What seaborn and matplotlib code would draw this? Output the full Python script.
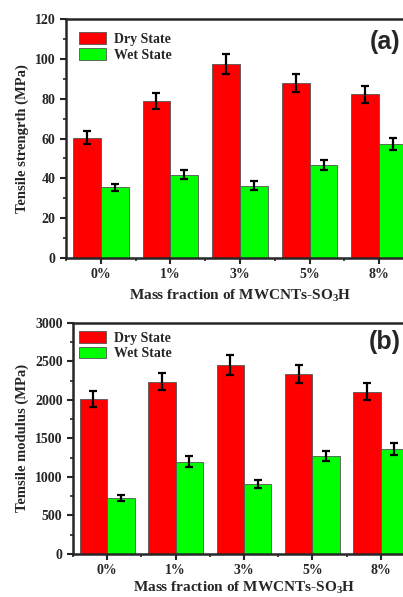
import numpy as np
import pandas as pd
import matplotlib
matplotlib.use("Agg")
import matplotlib.pyplot as plt
from matplotlib.ticker import AutoMinorLocator, MultipleLocator
import seaborn as sns

sns.set_style("ticks")
plt.rcParams['font.family'] = ['Liberation Serif', 'DejaVu Serif']
plt.rcParams['font.weight'] = 'bold'
plt.rcParams['mathtext.fontset'] = 'custom'
plt.rcParams['mathtext.rm'] = 'Liberation Serif:bold'
plt.rcParams['mathtext.it'] = 'Liberation Serif:bold'
plt.rcParams['mathtext.bf'] = 'Liberation Serif:bold'

# data
fractions = ["0%", "1%", "3%", "5%", "8%"]
states = ["Dry State", "Wet State"]

strength_dry = [60.5, 78.8, 97.4, 88.0, 82.3]
strength_dry_err = [3.2, 4.1, 5.0, 4.4, 4.3]
strength_wet = [35.5, 41.9, 36.4, 46.8, 57.3]
strength_wet_err = [1.9, 2.4, 2.1, 2.4, 3.1]

modulus_dry = [2015, 2235, 2452, 2335, 2105]
modulus_dry_err = [105, 112, 125, 120, 108]
modulus_wet = [730, 1200, 905, 1275, 1362]
modulus_wet_err = [38, 65, 55, 67, 72]

colors = ["#ff0000", "#00ff00"]


def make_df(dry, dry_err, wet, wet_err):
    return pd.DataFrame({
        "fraction": fractions * 2,
        "state": [states[0]] * 5 + [states[1]] * 5,
        "value": list(dry) + list(wet),
        "err": list(dry_err) + list(wet_err),
    })


def draw_panel(ax, df, ylabel, ymax, ystep, tag, tag_x, tag_y, leg_anchor, xpad):
    sns.barplot(data=df, x="fraction", y="value", hue="state", order=fractions,
                hue_order=states, palette=colors, errorbar=None, width=0.8,
                edgecolor="#555555", linewidth=0.6, saturation=1, ax=ax)
    # error bars at the bar positions
    for container, st in zip(ax.containers, states):
        sub = df[df["state"] == st].set_index("fraction").loc[fractions]
        xs = [p.get_x() + p.get_width() / 2 for p in container.patches]
        ax.errorbar(xs, sub["value"], yerr=sub["err"], fmt="none", ecolor="black",
                    elinewidth=1.6, capsize=3, capthick=1.6)
    ax.set_xlim(-0.5, 4.5)
    ax.set_ylim(0, ymax)
    ax.yaxis.set_major_locator(MultipleLocator(ystep))
    ax.yaxis.set_minor_locator(AutoMinorLocator(2))
    ax.set_xticks(np.arange(-0.5, 5, 1), minor=True)
    ax.set_ylabel(ylabel, fontsize=10.5, fontweight="bold")
    ax.set_xlabel("Mass fraction of MWCNTs-SO$_3$H", fontsize=11, fontweight="bold",
                  labelpad=xpad)
    ax.tick_params(axis="both", which="major", direction="out", length=4, width=1.5,
                   labelsize=10)
    ax.tick_params(axis="both", which="minor", direction="out", length=2.5, width=1.2)
    for s in ax.spines.values():
        s.set_linewidth(1.8)
    for lab in ax.get_xticklabels() + ax.get_yticklabels():
        lab.set_fontweight("bold")
    leg = ax.legend(loc="upper left", frameon=False, fontsize=10, handlelength=1.9,
                    handleheight=0.9, borderaxespad=0.3, labelspacing=0.15,
                    handletextpad=0.6, bbox_to_anchor=leg_anchor)
    for h in leg.legend_handles:
        h.set_edgecolor("#555555")
    ax.text(tag_x, tag_y, tag, transform=ax.transAxes, fontsize=18, fontweight="bold",
            family="Liberation Sans", ha="left", va="center", clip_on=False)


fig = plt.figure(figsize=(4.03, 5.97), dpi=100)
ax1 = fig.add_axes([0.1638, 0.5678, 0.8635, 0.4003])
ax2 = fig.add_axes([0.181, 0.072, 0.8486, 0.3874])

draw_panel(ax1, make_df(strength_dry, strength_dry_err, strength_wet, strength_wet_err),
           "Tensile strengrth (MPa)", 120, 20, "(a)", 0.872, 0.905, (0.01, 0.985), 5)
draw_panel(ax2, make_df(modulus_dry, modulus_dry_err, modulus_wet, modulus_wet_err),
           "Temsile modulus (MPa)", 3000, 500, "(b)", 0.866, 0.915, (-0.01, 1.005), 2)

fig.savefig("out.png", dpi=100)
